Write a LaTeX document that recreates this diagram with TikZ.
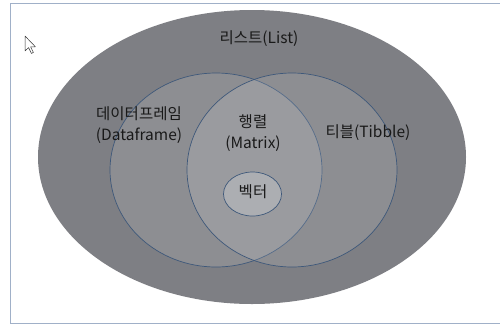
\documentclass[tikz,border=0pt]{standalone}
\usepackage{fontspec}
\setmainfont{Noto Sans CJK KR}
\begin{document}
\begin{tikzpicture}[x=1pt,y=-1pt,
  lbl/.style={font=\fontsize{15.5}{21}\selectfont, text=black!90, align=center, inner sep=0pt},
  setcirc/.style={draw=circline, line width=0.7pt, fill=white, fill opacity=0.12, text opacity=1},
]
\definecolor{outerfill}{RGB}{126,127,132}
\definecolor{circline}{RGB}{62,88,122}
\definecolor{framecol}{RGB}{160,176,200}
\definecolor{innerfill}{RGB}{172,174,178}
\useasboundingbox (0,0) rectangle (500,325);
\clip (0,0) rectangle (500,325);
\fill[white] (0,0) rectangle (500,325);
\draw[framecol, line width=1pt] (10,3) rectangle (520,323);
% outer ellipse (List)
\fill[outerfill] (252,157) ellipse [x radius=214, y radius=147];
% left and right circles
\path[setcirc] (216,170) ellipse [x radius=106, y radius=97];
\path[setcirc] (292,170) ellipse [x radius=105, y radius=97];
% inner ellipse (vector)
\path[draw=circline, line width=0.7pt, fill=innerfill] (252.5,194) ellipse [x radius=29, y radius=22];
% labels
\node[lbl] (tlist) at (259,39) {리스트(List)};
\node[lbl] (tdf) at (139,125) {데이터프레임\\(Dataframe)};
\node[lbl] (tmat) at (253,133) {행렬\\(Matrix)};
\node[lbl] (ttib) at (368,133) {티블(Tibble)};
\node[lbl] (tvec) at (253,192) {벡터};
% mouse cursor
\draw[black!80, fill=white, line width=0.5pt, line join=round]
  (25,36) -- (25,51) -- (28.6,47.6) -- (31.4,53.4) -- (33.4,52.4) -- (30.6,46.8) -- (35.4,46.8) -- cycle;
\end{tikzpicture}
\end{document}
